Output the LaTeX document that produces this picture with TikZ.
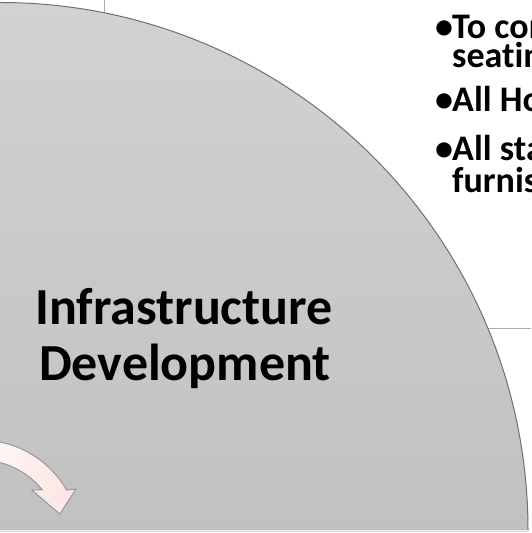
\documentclass[tikz,border=0pt]{standalone}
\usepackage{fontspec}
\setmainfont{Carlito}[Ligatures=NoCommon]
\definecolor{diskTop}{HTML}{D2D2D2}
\definecolor{diskBot}{HTML}{C1C1C1}
\definecolor{rimGray}{HTML}{707070}
\definecolor{guideGray}{HTML}{ABABAB}
\definecolor{arrowPink}{HTML}{FBE4E1}
\definecolor{arrowLine}{HTML}{8C8C8C}
\begin{document}
\begin{tikzpicture}[x=1pt,y=1pt,
  guide/.style={draw=guideGray,line width=0.8pt},
  disk/.style={top color=diskTop,bottom color=diskBot},
  rim/.style={draw=rimGray,line width=1pt},
  curvedarrow/.style={left color=white,right color=arrowPink,draw=arrowLine,line width=0.8pt,line join=miter},
  title/.style={font=\fontsize{52}{56}\selectfont\bfseries,inner sep=0pt,anchor=base},
  bullettext/.style={font=\fontsize{36}{36}\selectfont\bfseries,inner sep=0pt,anchor=base west,text height=22pt,text depth=0pt}]
\useasboundingbox (0,0) rectangle (531,533);
\clip (0,0) rectangle (531,533);
\fill[white] (0,0) rectangle (531,533);
% guide lines behind the disk
\draw[guide] (104,534) -- (104,490);
\draw[guide] (420,205) -- (532,205);
% quarter disk
\shade[disk] (0,2.5) -- (528,2.5) arc[start angle=0,end angle=90,radius=528] -- cycle;
\draw[rim] (528,2.5) arc[start angle=0,end angle=90,radius=528];
\draw[draw=guideGray!45,line width=1.2pt] (0,1.8) -- (527,1.8);
% curved arrow
\begin{scope}[shift={(-20,-7)}]
  \shade[curvedarrow] (105:100) arc[start angle=105,end angle=29.9,radius=100]
    -- (28:108.7) -- (18:84) -- (43.9:72) -- (38.9:80)
    arc[start angle=38.9,end angle=105,radius=80] -- cycle;
\end{scope}
% title
\node[title] (t1) at (184,208) {Infrastructure};
\node[title] (t2) at (185,152) {Development};
% bullets (cut by the right edge, as in the reference)
\node[bullettext] (b1) at (435,494) {•};
\node[bullettext] (l1) at (452,494) {To com};
\node[bullettext] (l2) at (452,465) {seating};
\node[bullettext] (b2) at (435,421) {•};
\node[bullettext] (l3) at (452,421) {All Ho};
\node[bullettext] (b3) at (435,372) {•};
\node[bullettext] (l4) at (452,372) {All sta};
\node[bullettext] (l5) at (452,340) {furnis};
\end{tikzpicture}
\end{document}
